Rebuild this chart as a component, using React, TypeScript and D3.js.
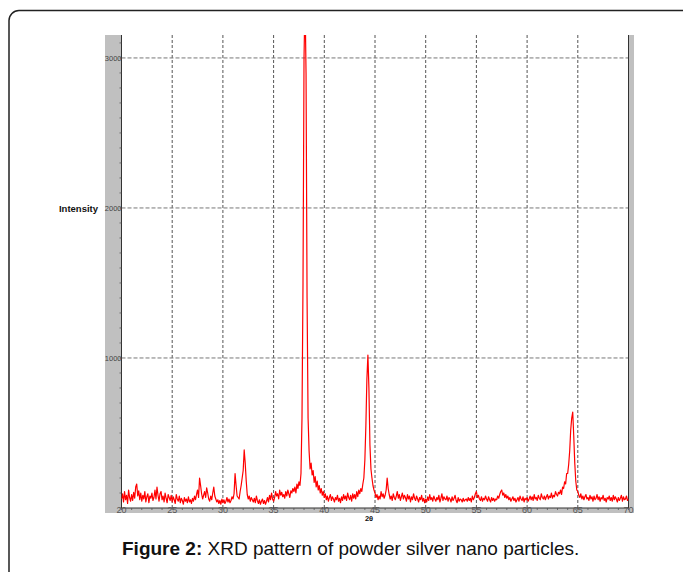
import * as d3 from 'd3';

// 2-theta start / step of the scan
const START = 20;
const STEP = 0.1;

// intensity readings, one row per degree (20.0 .. 69.9), then 70.0
const intensity = [
  60, 95, 40, 110, 55, 85, 30, 120, 70, 45,
  90, 50, 105, 65, 140, 160, 80, 115, 55, 100,
  45, 85, 60, 110, 40, 75, 95, 35, 80, 65,
  100, 50, 70, 120, 60, 140, 85, 45, 95, 110,
  55, 80, 40, 100, 65, 35, 90, 70, 50, 85,
  40, 75, 55, 30, 90, 60, 45, 80, 35, 65,
  50, 25, 70, 45, 60, 35, 75, 40, 55, 30,
  65, 45, 80, 55, 90, 120, 70, 200, 150, 95,
  60, 85, 110, 70, 135, 100, 60, 45, 80, 55,
  100, 140, 80, 60, 40, 55, 30, 50, 25, 60,
  35, 55, 30, 45, 70, 40, 60, 35, 50, 75,
  60, 95, 230, 150, 80, 70, 60, 110, 150, 200,
  250, 387, 300, 180, 90, 60, 80, 45, 70, 55,
  40, 65, 35, 80, 50, 30, 55, 25, 45, 60,
  30, 50, 25, 45, 70, 40, 85, 55, 100, 60,
  45, 70, 110, 80, 95, 60, 120, 85, 105, 75,
  90, 65, 110, 80, 120, 95, 70, 115, 100, 130,
  110, 140, 100, 160, 130, 175, 150, 230, 600, 1500,
  3000, 3400, 2900, 1400, 600, 380, 260, 300, 220, 250,
  170, 210, 140, 180, 120, 150, 100, 130, 85, 110,
  70, 95, 55, 80, 45, 70, 90, 50, 75, 60,
  40, 70, 55, 85, 45, 65, 35, 75, 50, 90,
  60, 80, 50, 100, 70, 55, 85, 45, 95, 65,
  90, 60, 110, 75, 120, 95, 130, 110, 160, 200,
  320, 550, 860, 1020, 800, 420, 260, 200, 150, 120,
  100, 70, 90, 55, 80, 60, 110, 75, 95, 65,
  85, 120, 200, 130, 90, 60, 80, 50, 95, 70,
  55, 80, 110, 65, 90, 50, 75, 100, 60, 85,
  70, 45, 90, 60, 80, 40, 75, 55, 95, 65,
  50, 80, 60, 40, 70, 55, 85, 45, 65, 35,
  60, 40, 75, 50, 90, 55, 70, 45, 80, 60,
  45, 70, 55, 85, 40, 65, 95, 50, 75, 60,
  55, 80, 45, 70, 60, 40, 75, 50, 65, 85,
  50, 35, 70, 45, 60, 55, 40, 65, 45, 55,
  60, 45, 70, 50, 65, 40, 80, 55, 70, 95,
  110, 70, 85, 60, 50, 75, 45, 65, 55, 80,
  60, 45, 75, 55, 40, 70, 50, 65, 45, 60,
  55, 80, 65, 90, 110, 120, 85, 100, 70, 90,
  65, 80, 55, 70, 45, 60, 75, 50, 65, 40,
  55, 70, 45, 80, 60, 50, 75, 40, 65, 55,
  70, 45, 60, 80, 55, 75, 50, 90, 60, 70,
  50, 85, 65, 55, 95, 70, 60, 80, 55, 75,
  90, 60, 80, 70, 100, 65, 85, 75, 110, 90,
  80, 105, 95, 120, 90, 140, 130, 175, 160, 230,
  230, 290, 380, 520, 600, 640, 480, 300, 180, 120,
  110, 85, 70, 95, 60, 80, 55, 75, 90, 60,
  70, 50, 85, 60, 75, 45, 80, 55, 65, 90,
  55, 75, 45, 70, 60, 85, 50, 65, 40, 70,
  60, 80, 50, 70, 45, 85, 55, 75, 60, 40,
  70, 50, 65, 85, 45, 75, 55, 60, 80, 50,
  60,
];

const xTicks = [20, 25, 30, 35, 40, 45, 50, 55, 60, 65, 70];
const yTicks = [1000, 2000, 3000];

const W = 683;
const H = 572;
const left = 121.5;
const right = 628.5;
const top = 35;
const bottom = 508;

export default function App() {
  const x = d3.scaleLinear().domain([20, 70]).range([left, right]);
  const y = d3.scaleLinear().domain([0, 3153]).range([bottom, top]);

  const line = d3
    .line<number>()
    .x((_d, i) => x(START + i * STEP))
    .y((d) => y(d));

  const minorY = d3.range(0, 3200, 100);
  const minorX = d3.range(20, 71, 1);

  return (
    <svg width={W} height={H} style={{ position: 'absolute', left: 0, top: 0 }}
      fontFamily="'Liberation Sans', Arial, sans-serif">
      <defs>
        <clipPath id="plot">
          <rect x={left} y={top} width={right - left} height={bottom - top} />
        </clipPath>
      </defs>
      <rect width={W} height={H} fill="#fff" />
      {/* outer frame */}
      <rect x={9} y={10.5} width={700} height={600} rx={10} fill="none" stroke="#222" strokeWidth={1.5} />

      {/* grey side strips */}
      <rect x={105} y={top} width={left - 105} height={513 - top} fill="#c0c0c0" />
      <rect x={right} y={top} width={634 - right} height={513 - top} fill="#c0c0c0" />
      <rect x={105} y={bottom} width={634 - 105} height={5} fill="#c0c0c0" />

      {/* grid */}
      {xTicks.slice(1, -1).map((t) => (
        <line key={'gx' + t} x1={x(t)} x2={x(t)} y1={top} y2={bottom}
          stroke="#555" strokeWidth={1} strokeDasharray="3,2" />
      ))}
      {yTicks.map((t) => (
        <line key={'gy' + t} x1={left} x2={right} y1={y(t)} y2={y(t)}
          stroke="#777" strokeWidth={1} strokeDasharray="4,2" />
      ))}

      {/* axes */}
      <line x1={left} x2={left} y1={top} y2={bottom} stroke="#333" />
      <line x1={right} x2={right} y1={top} y2={bottom} stroke="#333" />
      <line x1={left} x2={right} y1={bottom} y2={bottom} stroke="#333" />
      {minorY.map((t) => (
        <line key={'my' + t} x1={left - 2} x2={left} y1={y(t)} y2={y(t)} stroke="#555" strokeWidth={0.8} />
      ))}
      {minorX.map((t) => (
        <line key={'mx' + t} x1={x(t)} x2={x(t)} y1={bottom} y2={bottom + 2} stroke="#555" strokeWidth={0.8} />
      ))}

      {/* data */}
      <path d={line(intensity) || ''} fill="none" stroke="#ff0000" strokeWidth={1.2}
        clipPath="url(#plot)" strokeLinejoin="round" />

      {/* labels */}
      {yTicks.map((t) => (
        <text key={'ly' + t} x={left} y={y(t)} dy="0.35em" textAnchor="end" fontSize={7.5} fill="#444">{t}</text>
      ))}
      {xTicks.map((t) => (
        <text key={'lx' + t} x={x(t)} y={510} dy="0.35em" textAnchor="middle" fontSize={9} fill="#555">{t}</text>
      ))}
      <text x={98} y={209} dy="0.35em" textAnchor="end" fontSize={9.5} fontWeight="bold" fill="#111">Intensity</text>
      <text x={369} y={518} dy="0.35em" textAnchor="middle" fontSize={7.5} fontWeight="bold" fill="#111">2θ</text>

      <text x={122} y={555} fontSize={19} fill="#111">
        <tspan fontWeight="bold">Figure 2:</tspan> XRD pattern of powder silver nano particles.
      </text>
    </svg>
  );
}
